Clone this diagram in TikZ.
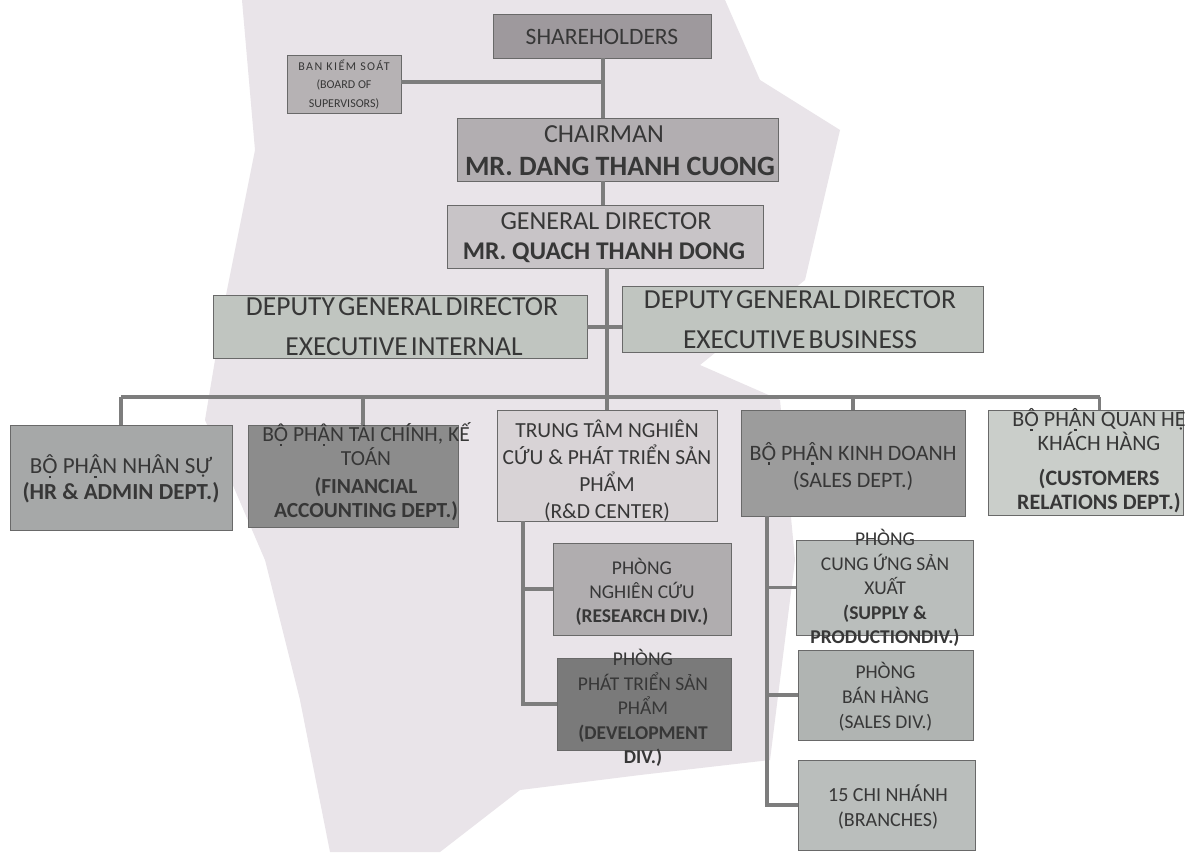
\documentclass[tikz,border=0pt]{standalone}
\usepackage{fontspec}
\setmainfont{Carlito}
\newfontfamily\tightfont{Carlito}[WordSpace=0.5]
\newfontfamily\widefont{Carlito}[LetterSpace=12]
\newcommand{\dotb}[1]{\ooalign{#1\cr\hidewidth\raisebox{-0.19em}{\rule{0.11em}{0.11em}}\hidewidth\cr}}
\newcommand{\BOPHAN}{B\dotb{Ô} PH\dotb{Â}N}
\usetikzlibrary{calc}
\definecolor{bgpink}{RGB}{233,228,233}
\definecolor{linec}{RGB}{125,125,125}
\definecolor{edgec}{RGB}{105,105,105}
\definecolor{txtc}{RGB}{55,55,55}
\definecolor{cSh}{RGB}{158,153,157}
\definecolor{cBos}{RGB}{182,178,180}
\definecolor{cCh}{RGB}{178,174,177}
\definecolor{cGd}{RGB}{200,196,199}
\definecolor{cDep}{RGB}{192,197,192}
\definecolor{cHr}{RGB}{166,168,168}
\definecolor{cFin}{RGB}{140,140,140}
\definecolor{cRd}{RGB}{216,211,214}
\definecolor{cSal}{RGB}{156,156,156}
\definecolor{cCus}{RGB}{202,206,202}
\definecolor{cRes}{RGB}{176,173,175}
\definecolor{cDev}{RGB}{122,122,122}
\definecolor{cSup}{RGB}{186,190,188}
\definecolor{cSdv}{RGB}{176,180,178}
\tikzset{
  orgbox/.style={draw=edgec, line width=1pt, inner sep=0pt, outer sep=0pt},
  conn/.style={draw=linec, line width=3.2pt},
  fs/.style 2 args={font=\fontsize{#1}{#2}\selectfont},
  txt/.style={text=txtc, align=center, inner sep=0pt},
}
\begin{document}
\begin{tikzpicture}[x=1pt,y=-1pt]
\useasboundingbox (0,0) rectangle (1204,852);
\fill[white] (0,0) rectangle (1204,852);
% scanned background
\fill[bgpink] (242,0) -- (725,0) -- (760,80) -- (840,130) -- (805,280) -- (700,365) -- (780,400) -- (795,560) -- (770,760) -- (640,775) -- (520,790) -- (440,852) -- (330,852) -- (300,700) -- (265,560) -- (205,420) -- (225,300) -- (255,150) -- cycle;

% boxes
\node[orgbox, fill=cSh, minimum width=218pt, minimum height=44pt] (sh) at (602,36) {};
\node[txt, fs={23.5}{28}] (sht) at (602,37) {SHAREHOLDERS};
\node[orgbox, fill=cBos, minimum width=114pt, minimum height=58pt] (bos) at (344,84) {};
\node[txt, fs={12}{18.5}] (bost) at (344,84) {\widefont BAN KIỂM SOÁT\\(BOARD OF\\SUPERVISORS)};
\node[orgbox, fill=cCh, minimum width=321pt, minimum height=63pt] (ch) at (617.5,149.5) {};
\node[txt, fs={26}{30}] (cht) at (604,134) {CHAIRMAN};
\node[txt, fs={28}{32}] (chn) at (620,166) {\textbf{MR. DANG THANH CUONG}};
\node[orgbox, fill=cGd, minimum width=316pt, minimum height=63pt] (gd) at (605,236.5) {};
\node[txt, fs={26}{30}] (gdt) at (606,221) {GENERAL DIRECTOR};
\node[txt, fs={25.5}{30}] (gdn) at (604,253) {\textbf{MR. QUACH THANH DONG}};
\node[orgbox, fill=cDep, minimum width=374pt, minimum height=63pt] (dgl) at (400,326.5) {};
\node[txt, fs={27.5}{30}] (dglt) at (402,307) {\tightfont DEPUTY GENERAL DIRECTOR};
\node[txt, fs={27.5}{30}] (dgln) at (404,347) {\tightfont EXECUTIVE INTERNAL};
\node[orgbox, fill=cDep, minimum width=361pt, minimum height=66pt] (dgr) at (802.5,319) {};
\node[txt, fs={27.5}{30}] (dgrt) at (800,300) {\tightfont DEPUTY GENERAL DIRECTOR};
\node[txt, fs={27.5}{30}] (dgrn) at (800,340) {\tightfont EXECUTIVE BUSINESS};

\node[orgbox, fill=cHr, minimum width=222pt, minimum height=105pt] (hr) at (121,477.5) {};
\node[txt, fs={23}{25.5}] (hrt) at (121,479) {\BOPHAN{} NHÂN SỰ\\\textbf{(HR \& ADMIN DEPT.)}};
\node[orgbox, fill=cFin, minimum width=210pt, minimum height=102pt] (fin) at (353,476) {};
\node[txt, fs={21.5}{24}] (fint) at (366,472) {\BOPHAN{} TÀI CHÍNH, KẾ\\TOÁN\\[4pt]\textbf{(FINANCIAL}\\\textbf{ACCOUNTING DEPT.)}};
\node[orgbox, fill=cRd, minimum width=220pt, minimum height=111pt] (rd) at (607,465.5) {};
\node[txt, fs={21.5}{27}] (rdt) at (607,471) {TRUNG TÂM NGHIÊN\\CỨU \& PHÁT TRIỂN SẢN\\PHẨM\\(R\&D CENTER)};
\node[orgbox, fill=cSal, minimum width=224pt, minimum height=106pt] (sal) at (853,463) {};
\node[txt, fs={22}{27}] (salt) at (853,466.5) {\BOPHAN{} KINH DOANH\\(SALES DEPT.)};
\node[orgbox, fill=cCus, minimum width=195pt, minimum height=105pt] (cus) at (1085.5,462.5) {};
\node[txt, fs={22}{24}] (cust) at (1099,461) {\BOPHAN{} QUAN HỆ\\KHÁCH HÀNG\\[11pt]\textbf{(CUSTOMERS}\\\textbf{RELATIONS DEPT.)}};

\node[orgbox, fill=cRes, minimum width=178pt, minimum height=92pt] (res) at (642,589) {};
\node[txt, fs={19.5}{24}] (rest) at (642,592) {PHÒNG\\NGHIÊN CỨU\\\textbf{(RESEARCH DIV.)}};
\node[orgbox, fill=cDev, minimum width=174pt, minimum height=92pt] (dev) at (644,704) {};
\node[txt, fs={19.5}{24.5}] (devt) at (643,708) {PHÒNG\\PHÁT TRIỂN SẢN\\PHẨM\\\textbf{(DEVELOPMENT}\\\textbf{DIV.)}};
\node[orgbox, fill=cSup, minimum width=177pt, minimum height=95pt] (sup) at (884.5,587.5) {};
\node[txt, fs={19.5}{24.5}] (supt) at (885,588) {PHÒNG\\CUNG ỨNG SẢN\\XUẤT\\\textbf{(SUPPLY \&}\\\textbf{PRODUCTIONDIV.)}};
\node[orgbox, fill=cSdv, minimum width=175pt, minimum height=90pt] (sdv) at (885.5,695) {};
\node[txt, fs={19.5}{25}] (sdvt) at (885.5,697) {PHÒNG\\BÁN HÀNG\\(SALES DIV.)};
\node[orgbox, fill=cSup, minimum width=177pt, minimum height=90pt] (br) at (886.5,805) {};
\node[txt, fs={20}{25}] (brt) at (888,807) {15 CHI NHÁNH\\(BRANCHES)};

% junction coordinates
\coordinate (top) at (603,82);
\coordinate (spine) at (607,327);
\coordinate (bus) at (607,397);
\coordinate (rdx) at (523,521);
\coordinate (slx) at (767,516);

% connectors
\draw[conn] (sh.south -| top) -- (ch.north -| top);
\draw[conn] (bos.east |- top) -- (top);
\draw[conn] (ch.south -| top) -- (gd.north -| top);
\draw[conn] (gd.south -| bus) -- (bus);
\draw[conn] (dgl.east |- spine) -- (dgr.west |- spine);
\draw[conn] (hr.north |- bus) -- ([xshift=14pt]cus.north |- bus);
\draw[conn] (hr.north |- bus) -- (hr.north);
\draw[conn] ([xshift=10pt]fin.north |- bus) -- ([xshift=10pt]fin.north);
\draw[conn] (rd.north |- bus) -- (rd.north);
\draw[conn] (sal.north |- bus) -- (sal.north);
\draw[conn] ([xshift=14pt]cus.north |- bus) -- ([xshift=14pt]cus.north);
\draw[conn] (rdx) -- (rdx |- dev.west) -- (dev.west);
\draw[conn] (rdx |- res.west) -- (res.west);
\draw[conn] (slx) -- (slx |- br.west) -- (br.west);
\draw[conn] (slx |- sup.west) -- (sup.west);
\draw[conn] (slx |- sdv.west) -- (sdv.west);
\end{tikzpicture}
\end{document}
